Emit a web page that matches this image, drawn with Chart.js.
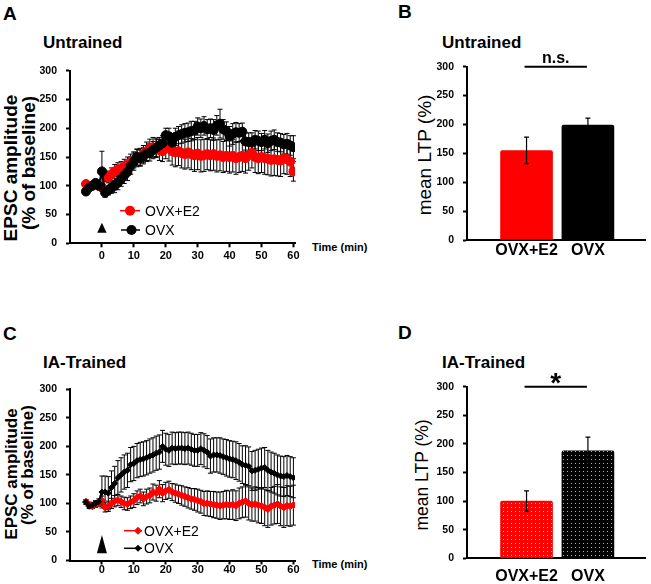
<!DOCTYPE html>
<html lang="en">
<head>
<meta charset="UTF-8">
<title>LTP in OVX and OVX+E2 slices</title>
<script src="https://cdn.jsdelivr.net/npm/chart.js"></script>
<style>
    body {
        margin: 0;
        background: #fff;
        font-family: 'Liberation Sans', Arial, sans-serif;
        color: #000;
    }

    #fig {
        position: relative;
        width: 651px;
        height: 584px;
        overflow: hidden;
    }

    .panel { position: absolute; }

    .txt {
        position: absolute;
        white-space: nowrap;
        line-height: 1;
    }

    .letter { font-size: 19px; font-weight: bold; }
    .title { font-size: 17px; font-weight: bold; }
    .unit { font-size: 11px; font-weight: bold; }

    /* rotated axis titles, positioned by their centre */
    .ytitle {
        position: absolute;
        white-space: nowrap;
        line-height: 1;
        transform: translate(-50%, -50%) rotate(-90deg);
    }
</style>
</head>
<body>
<div id="fig">
    <div class="txt letter" style="left:3px; top:4px;">A</div>
    <div class="txt letter" style="left:398px; top:2px;">B</div>
    <div class="txt letter" style="left:3px; top:324px;">C</div>
    <div class="txt letter" style="left:398px; top:323px;">D</div>

    <div class="txt title" style="left:43px; top:34px;">Untrained</div>
    <div class="txt title" style="left:442px; top:34px;">Untrained</div>
    <div class="txt title" style="left:43px; top:354px;">IA-Trained</div>
    <div class="txt title" style="left:442px; top:354px;">IA-Trained</div>

    <div class="ytitle" style="left:10px; top:168px; font-size:19px; font-weight:bold;">EPSC amplitude</div>
    <div class="ytitle" style="left:27.5px; top:163px; font-size:19px; font-weight:bold;">(% of baseline)</div>
    <div class="ytitle" style="left:11px; top:474px; font-size:17px; font-weight:bold;">EPSC amplitude</div>
    <div class="ytitle" style="left:27px; top:465px; font-size:17px; font-weight:bold;">(% of baseline)</div>
    <div class="ytitle" style="left:423.5px; top:155px; font-size:19px;">mean LTP (%)</div>
    <div class="ytitle" style="left:423px; top:475px; font-size:17.5px;">mean LTP (%)</div>

    <div class="txt unit" style="left:312px; top:242px;">Time (min)</div>
    <div class="txt unit" style="left:312px; top:559px;">Time (min)</div>

    <div class="panel" style="left:0; top:0;"><canvas id="chartA" width="330" height="290"></canvas></div>
    <div class="panel" style="left:330px; top:0;"><canvas id="chartB" width="321" height="290"></canvas></div>
    <div class="panel" style="left:0; top:290px;"><canvas id="chartC" width="330" height="294"></canvas></div>
    <div class="panel" style="left:330px; top:290px;"><canvas id="chartD" width="321" height="294"></canvas></div>
</div>

<script>
    // ---- data ----
    const timeMin = [-5, -4, -3, -2, -1, 0, 1, 2, 3, 4, 5, 6, 7, 8, 9, 10, 11, 12, 13, 14, 15, 16, 17, 18, 19, 20,
        21, 22, 23, 24, 25, 26, 27, 28, 29, 30, 31, 32, 33, 34, 35, 36, 37, 38, 39, 40,
        41, 42, 43, 44, 45, 46, 47, 48, 49, 50, 51, 52, 53, 54, 55, 56, 57, 58, 59, 60];

    // panel A, untrained
    const untrainedE2 = [103, 98, 100, 103, 100, 98, 117, 115, 120, 125, 128, 130, 133, 137, 141, 145, 148, 150, 155, 160,
        165, 167, 166, 162, 160, 167, 165, 160, 158, 160, 157, 155, 158, 155, 153, 156, 152, 153, 155, 153,
        155, 152, 153, 150, 152, 150, 152, 148, 150, 152, 148, 153, 157, 150, 148, 150, 148, 147, 145, 146,
        145, 144, 148, 146, 142, 125];
    const untrainedE2Err = [4, 4, 5, 5, 4, 5, 10, 10, 11, 12, 12, 12, 13, 13, 14, 14, 15, 15, 15, 16,
        16, 17, 17, 18, 18, 20, 22, 24, 25, 25, 26, 26, 27, 27, 28, 28, 28, 28, 27, 27,
        28, 28, 27, 27, 27, 28, 28, 28, 27, 27, 26, 26, 26, 27, 27, 27, 28, 28, 28, 28,
        28, 28, 27, 26, 26, 17];
    const untrainedOVX = [90, 97, 100, 105, 100, 125, 88, 92, 97, 100, 105, 112, 118, 124, 135, 142, 150, 148, 152, 156,
        158, 162, 166, 170, 174, 188, 186, 175, 185, 188, 190, 192, 193, 195, 196, 203, 200, 204, 198, 200,
        197, 205, 208, 198, 195, 186, 190, 193, 192, 194, 177, 176, 175, 180, 178, 176, 180, 174, 178, 180,
        176, 175, 172, 173, 170, 167];
    const untrainedOVXErr = [5, 5, 6, 6, 6, 35, 8, 8, 10, 12, 12, 13, 14, 15, 15, 15, 14, 14, 14, 14,
        15, 15, 15, 14, 13, 12, 14, 15, 15, 15, 16, 16, 16, 17, 16, 15, 16, 16, 17, 16,
        18, 17, 25, 17, 16, 17, 18, 17, 16, 15, 15, 16, 17, 16, 17, 15, 16, 16, 17, 17,
        16, 16, 17, 18, 17, 20];

    // panel C, IA-trained
    const trainedE2 = [103, 98, 95, 98, 100, 105, 93, 95, 100, 104, 106, 103, 100, 99, 102, 105, 110, 113, 108, 112,
        114, 120, 118, 125, 118, 122, 124, 120, 118, 116, 114, 112, 110, 108, 107, 105, 103, 100, 100, 99,
        98, 97, 96, 97, 98, 97, 98, 96, 100, 102, 104, 100, 98, 99, 97, 96, 93, 90, 95, 97,
        99, 95, 93, 96, 95, 97];
    const trainedE2Err = [4, 4, 4, 5, 5, 8, 8, 9, 9, 10, 10, 10, 11, 11, 11, 12, 12, 12, 12, 13,
        13, 14, 14, 15, 15, 15, 15, 15, 16, 16, 17, 17, 18, 18, 19, 20, 20, 21, 22, 22,
        23, 23, 24, 24, 25, 25, 26, 26, 27, 27, 28, 29, 29, 30, 31, 31, 32, 32, 33, 33,
        34, 34, 35, 35, 35, 35];
    const trainedOVX = [102, 95, 97, 100, 103, 120, 120, 118, 128, 135, 145, 150, 155, 158, 168, 170, 175, 177, 178, 180,
        183, 185, 188, 190, 200, 195, 193, 197, 196, 197, 197, 196, 197, 195, 193, 193, 196, 193, 190, 183,
        185, 185, 184, 182, 180, 178, 177, 175, 172, 168, 167, 165, 157, 158, 160, 162, 163, 158, 155, 153,
        150, 148, 147, 149, 147, 145];
    const trainedOVXErr = [4, 4, 5, 5, 5, 28, 28, 29, 29, 30, 30, 30, 30, 30, 30, 30, 30, 30, 30, 30,
        30, 30, 30, 30, 28, 28, 28, 28, 28, 28, 28, 28, 28, 28, 28, 28, 28, 29, 29, 30,
        30, 30, 31, 31, 32, 32, 32, 33, 33, 33, 34, 34, 34, 35, 35, 35, 35, 35, 35, 35,
        35, 35, 35, 35, 35, 35];

    // panels B and D
    const groups = ['OVX+E2', 'OVX'];
    const untrainedLTP = [155, 199];
    const untrainedLTPErr = [23, 12];
    const trainedLTP = [100, 188];
    const trainedLTPErr = [18, 24];

    const timeTicks = [0, 10, 20, 30, 40, 50, 60];
    const ampTicks = [0, 50, 100, 150, 200, 250, 300];

    // ---- styling ----
    const RED = '#ff0000';
    const BLACK = '#000000';
    const FONT = "'Liberation Sans', Arial, sans-serif";

    Chart.defaults.font.family = FONT;
    Chart.defaults.color = '#000';
    Chart.defaults.animation = false;

    // vertical SEM bars, drawn under line markers or over bars
    function drawErrors(chart, opts) {
        const ctx = chart.ctx;
        const y = chart.scales.y;
        const cap = opts.cap || 2.5;
        chart.data.datasets.forEach((ds, i) => {
            if (!ds.errors) return;
            const meta = chart.getDatasetMeta(i);
            ctx.save();
            ctx.strokeStyle = '#000';
            ctx.lineWidth = opts.width || 1;
            meta.data.forEach((el, j) => {
                const raw = ds.data[j];
                const v = typeof raw === 'object' ? raw.y : raw;
                const e = ds.errors[j];
                const top = y.getPixelForValue(v + e);
                const bot = y.getPixelForValue(v - e);
                ctx.beginPath();
                ctx.moveTo(el.x, top);
                ctx.lineTo(el.x, bot);
                ctx.moveTo(el.x - cap, top);
                ctx.lineTo(el.x + cap, top);
                ctx.moveTo(el.x - cap, bot);
                ctx.lineTo(el.x + cap, bot);
                ctx.stroke();
            });
            ctx.restore();
        });
    }

    const errorBars = {
        id: 'errorBars',
        beforeDatasetsDraw(chart, args, opts) {
            if (!opts.front) drawErrors(chart, opts);
        },
        afterDatasetsDraw(chart, args, opts) {
            if (opts.front) drawErrors(chart, opts);
        }
    };

    function marker(ctx, style, r, x, y) {
        ctx.beginPath();
        if (style === 'rectRot') {
            ctx.moveTo(x, y - r);
            ctx.lineTo(x + r, y);
            ctx.lineTo(x, y + r);
            ctx.lineTo(x - r, y);
            ctx.closePath();
        } else {
            ctx.arc(x, y, r, 0, Math.PI * 2);
        }
        ctx.fill();
    }

    // legend inside the plot plus the stimulus arrowhead at t = 0
    const inlineLegend = {
        id: 'inlineLegend',
        afterDraw(chart, args, opts) {
            const ctx = chart.ctx;
            chart.data.datasets.forEach((ds, i) => {
                const row = opts.rows[i];
                ctx.save();
                ctx.strokeStyle = ds.borderColor;
                ctx.lineWidth = 1.5;
                ctx.beginPath();
                ctx.moveTo(row.x1, row.y);
                ctx.lineTo(row.x2, row.y);
                ctx.stroke();
                ctx.fillStyle = ds.borderColor;
                marker(ctx, ds.pointStyle, ds.pointRadius + 0.5, row.mx, row.y);
                ctx.fillStyle = '#000';
                ctx.font = opts.font;
                ctx.textBaseline = 'middle';
                ctx.fillText(ds.label, opts.textX, row.y + 1);
                ctx.restore();
            });
            const x0 = chart.scales.x.getPixelForValue(0);
            const a = opts.arrow;
            ctx.save();
            ctx.fillStyle = '#000';
            ctx.beginPath();
            ctx.moveTo(x0, a.top);
            ctx.lineTo(x0 + a.half, a.bottom);
            ctx.lineTo(x0 - a.half, a.bottom);
            ctx.closePath();
            ctx.fill();
            ctx.restore();
        }
    };

    // comparison bar with its mark
    const sigMark = {
        id: 'sigMark',
        afterDraw(chart, args, opts) {
            const { ctx, scales: { x, y } } = chart;
            const yl = y.getPixelForValue(300);
            const xa = x.getPixelForValue(1) - 2;
            const xb = x.getPixelForValue(2) - 1;
            ctx.save();
            ctx.strokeStyle = '#000';
            ctx.lineWidth = 2;
            ctx.beginPath();
            ctx.moveTo(xa, yl);
            ctx.lineTo(xb, yl);
            ctx.stroke();
            ctx.fillStyle = '#000';
            ctx.font = opts.font;
            ctx.textAlign = 'center';
            ctx.textBaseline = 'alphabetic';
            ctx.fillText(opts.text, (xa + xb) / 2, yl + opts.dy);
            ctx.restore();
        }
    };

    function dotted(color) {
        const c = document.createElement('canvas');
        c.width = 4;
        c.height = 4;
        const g = c.getContext('2d');
        g.fillStyle = color;
        g.fillRect(0, 0, 4, 4);
        g.fillStyle = 'rgba(255,255,255,0.7)';
        g.fillRect(1, 1, 1, 1);
        return g.createPattern(c, 'repeat');
    }

    function yScale(width) {
        return {
            min: 0,
            max: 300,
            afterBuildTicks: s => { s.ticks = ampTicks.map(v => ({ value: v })); },
            afterFit: s => { s.width = width; },
            ticks: { font: { size: 10.5, weight: 'bold' }, padding: 9 },
            grid: { drawOnChartArea: false, tickLength: 4, tickWidth: 2, tickColor: '#000' },
            border: { color: '#000', width: 2 }
        };
    }

    function timeChart(id, e2, e2Err, ovx, ovxErr, style, area, legend) {
        const pts = vals => timeMin.map((t, i) => ({ x: t, y: vals[i] }));
        const diamond = style === 'rectRot';
        return new Chart(document.getElementById(id), {
            type: 'line',
            data: {
                datasets: [{
                    label: 'OVX+E2',
                    data: pts(e2),
                    errors: e2Err,
                    borderColor: RED,
                    backgroundColor: RED,
                    pointBackgroundColor: RED,
                    pointBorderColor: RED,
                    pointStyle: style,
                    pointRadius: diamond ? 3.5 : 4.5,
                    pointBorderWidth: 1,
                    borderWidth: diamond ? 2.5 : 2,
                    order: 2
                }, {
                    label: 'OVX',
                    data: pts(ovx),
                    errors: ovxErr,
                    borderColor: BLACK,
                    backgroundColor: BLACK,
                    pointBackgroundColor: BLACK,
                    pointBorderColor: BLACK,
                    pointStyle: style,
                    pointRadius: diamond ? 3 : 4.5,
                    pointBorderWidth: 1,
                    borderWidth: 2,
                    order: 1
                }]
            },
            options: {
                responsive: false,
                devicePixelRatio: 1,
                layout: { padding: area },
                plugins: {
                    legend: { display: false },
                    tooltip: { enabled: false },
                    errorBars: { cap: 2.5, width: 1 },
                    inlineLegend: legend
                },
                scales: {
                    x: {
                        type: 'linear',
                        min: -10,
                        max: 60.5,
                        afterBuildTicks: s => { s.ticks = timeTicks.map(v => ({ value: v })); },
                        afterFit: s => { s.height = 20; },
                        ticks: { font: { size: 11, weight: 'bold' }, padding: area.xPad, maxRotation: 0 },
                        grid: { drawOnChartArea: false, tickLength: 4, tickWidth: 2, tickColor: '#000' },
                        border: { color: '#000', width: 2 }
                    },
                    y: yScale(70)
                }
            },
            plugins: [errorBars, inlineLegend]
        });
    }

    function ltpChart(id, vals, errs, fills, area, sig) {
        return new Chart(document.getElementById(id), {
            type: 'bar',
            data: {
                datasets: [{
                    data: groups.map((g, i) => ({ x: i + 1, y: vals[i] })),
                    errors: errs,
                    backgroundColor: fills,
                    borderWidth: 0,
                    borderRadius: 2,
                    borderSkipped: 'bottom',
                    barThickness: 52
                }]
            },
            options: {
                responsive: false,
                devicePixelRatio: 1,
                layout: { padding: area },
                plugins: {
                    legend: { display: false },
                    tooltip: { enabled: false },
                    errorBars: { front: true, cap: 2.5, width: 1.2 },
                    sigMark: sig
                },
                scales: {
                    x: {
                        type: 'linear',
                        offset: false,
                        min: 0.03,
                        max: 2.93,
                        afterBuildTicks: s => { s.ticks = groups.map((g, i) => ({ value: i + 1 })); },
                        afterFit: s => { s.height = area.xh; },
                        ticks: {
                            font: { size: 16, weight: 'bold' },
                            padding: area.xPad,
                            maxRotation: 0,
                            callback: (v, i) => groups[i]
                        },
                        grid: { display: false, drawTicks: false, offset: false },
                        border: { color: '#000', width: 2 }
                    },
                    y: yScale(137)
                }
            },
            plugins: [errorBars, sigMark]
        });
    }

    timeChart('chartA', untrainedE2, untrainedE2Err, untrainedOVX, untrainedOVXErr, 'circle',
        { left: 0, top: 70.7, right: 35, bottom: 26.7, xPad: 2 },
        {
            rows: [{ x1: 120, x2: 140, mx: 130, y: 210.7 }, { x1: 121, x2: 140, mx: 131.5, y: 230 }],
            textX: 145, font: "14px " + FONT,
            arrow: { top: 222.7, bottom: 232.7, half: 4.7 }
        });

    timeChart('chartC', trainedE2, trainedE2Err, trainedOVX, trainedOVXErr, 'rectRot',
        { left: 0, top: 99.3, right: 35, bottom: 3.5, xPad: -1 },
        {
            rows: [{ x1: 124, x2: 142, mx: 138, y: 240.7 }, { x1: 124, x2: 142, mx: 138, y: 258.3 }],
            textX: 144, font: "14px " + FONT,
            arrow: { top: 245, bottom: 263.3, half: 5 }
        });

    ltpChart('chartB', untrainedLTP, untrainedLTPErr, [RED, BLACK],
        { left: 0, top: 66.7, right: 6, bottom: 20, xh: 30, xPad: 1 },
        { text: 'n.s.', font: "bold 16px " + FONT, dy: -4 });

    ltpChart('chartD', trainedLTP, trainedLTPErr, [dotted(RED), dotted(BLACK)],
        { left: 0, top: 96.7, right: 6, bottom: 0.7, xh: 25, xPad: 9 },
        { text: '*', font: "bold 28px " + FONT, dy: 5 });
</script>
</body>
</html>
